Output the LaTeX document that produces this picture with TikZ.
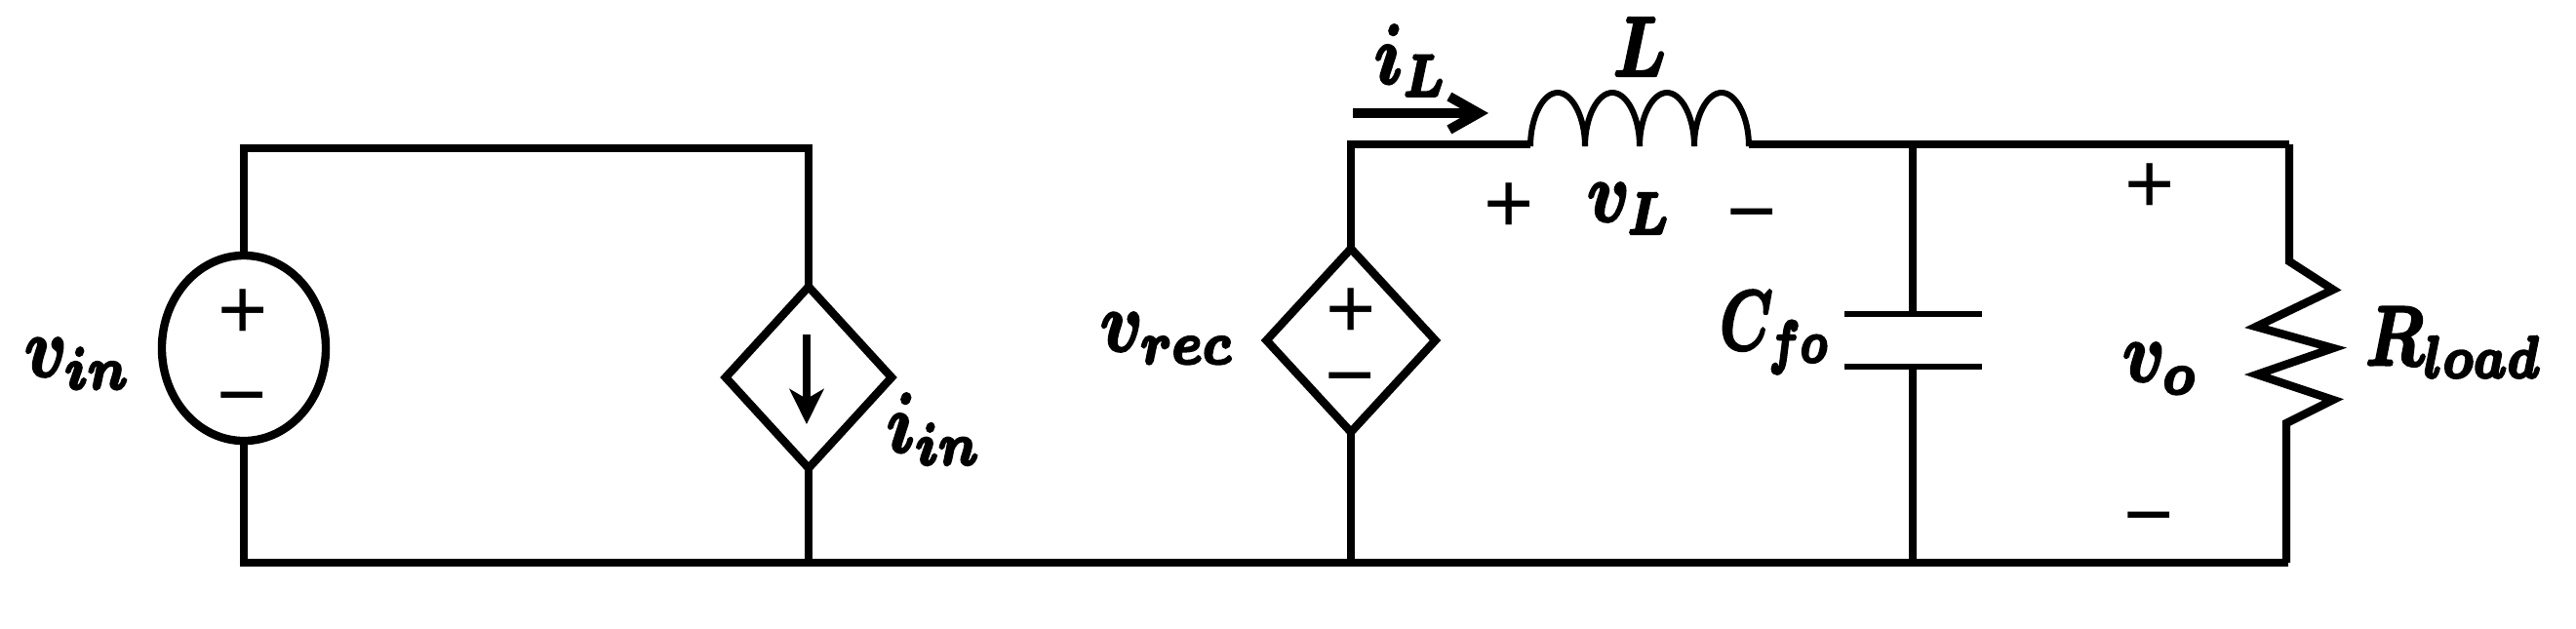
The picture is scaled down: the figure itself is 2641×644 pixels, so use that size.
\documentclass[tikz,border=0pt]{standalone}
\usepackage{amsmath}
\usepackage{fontspec}
\usepackage{tikz}
\usetikzlibrary{arrows.meta,shapes.geometric}
\newfontfamily\signfont{Liberation Sans}
\newcommand{\heavy}[1]{\special{pdf:code 2 Tr 0.35 w}#1\special{pdf:code 0 Tr}}
\tikzset{
    wire/.style={line width=0.084cm},
    coil/.style={line width=0.06cm},
    plate/.style={line width=0.062cm},
    srcshape/.style={draw,line width=0.084cm,inner sep=0pt,outer sep=0pt},
    sign/.style={inner sep=0pt,font=\signfont\fontsize{25}{30}\selectfont},
    lab/.style={inner sep=0pt,xscale=2.05,yscale=2.45,font=\boldmath}
}
\begin{document}
\begin{tikzpicture}[x=0.01cm,y=-0.01cm]
        \useasboundingbox (0,0) rectangle (2641,644);

        \node at (250,357) (vinsrc) [srcshape,ellipse,minimum width=1.68cm,minimum height=1.90cm] {};
        \node at (829,387) (iinsrc) [srcshape,diamond,minimum width=1.70cm,minimum height=1.86cm] {};
        \node at (1385,349) (recsrc) [srcshape,diamond,minimum width=1.73cm,minimum height=1.88cm] {};

        \coordinate (topa) at (250,152);
        \coordinate (topb) at (829,152);
        \coordinate (bota) at (250,577);
        \coordinate (botb) at (2346,577);
        \coordinate (topc) at (1385,148);
        \coordinate (topd) at (2347,148);
        \coordinate (indl) at (1569,148);
        \coordinate (indr) at (1793,148);
        \coordinate (capn) at (1961,148);
        \coordinate (capa) at (1961,322);
        \coordinate (capb) at (1961,376);

        \draw[wire] (vinsrc.north) -- (topa) -- (topb) -- (iinsrc.north);
        \draw[wire] (vinsrc.south) -- (bota) -- (botb);
        \draw[wire] (iinsrc.south) -- (iinsrc.south |- bota);
        \draw[wire] (recsrc.south) -- (recsrc.south |- bota);
        \draw[wire] (recsrc.north) -- (topc) -- (indl);
        \draw[wire] (indr) -- (topd);

        % inductor
        \foreach \i in {0,1,2,3}
        \draw[coil] ({1569+56*\i},150) .. controls ({1569+56*\i},120) and ({1582+56*\i},95) .. ({1597+56*\i},95) .. controls ({1612+56*\i},95) and ({1625+56*\i},120) .. ({1625+56*\i},150);

        % capacitor
        \draw[wire] (capn) -- (capa);
        \draw[wire] (capb) -- (capb |- bota);
        \draw[plate] (1891,322) -- (2032,322);
        \draw[plate] (1891,376) -- (2032,376);

        % load
        \draw[wire] (topd) -- (2347,268) -- (2392,297) -- (2313,335) -- (2392,357) -- (2314,384) -- (2392,410) -- (2344,434) -- (2344,577);

        % current arrows
        \coordinate (ila) at (1387,116);
        \coordinate (ilb) at (1526,116);
        \draw[line width=0.10cm,-{Straight Barb[length=0.3cm,width=0.34cm]}] (ila) -- (ilb);
        \coordinate (iia) at (827,343);
        \coordinate (iib) at (827,435);
        \draw[wire,-{Stealth[length=0.36cm,width=0.35cm,inset=0.1cm]}] (iia) -- (iib);

        \node at (249,322) (vinp) [sign] {+};
        \node at (248,418) (vinm) [sign] {−};
        \node at (1385,321) (recp) [sign] {+};
        \node at (1384,398) (recm) [sign] {−};
        \node at (1547,213) (vlp) [sign] {+};
        \node at (1796,230) (vlm) [sign] {−};
        \node at (2204,193) (vop) [sign] {+};
        \node at (2203,541) (vom) [sign] {−};

        \node at (80,373) (vinlab) [lab] {\heavy{$v_{in}$}};
        \node at (958,440) (iinlab) [lab] {\heavy{$i_{in}$}};
        \node at (1197,347) (reclab) [lab] {\heavy{$v_{rec}$}};
        \node at (1447,62) (illab) [lab] {\heavy{$i_L$}};
        \node at (1681,48) (llab) [lab] {\heavy{$L$}};
        \node at (1671,214) (vllab) [lab] {\heavy{$v_L$}};
        \node at (1820,341) (clab) [lab,xscale=0.85] {\heavy{$C_{fo}$}};
        \node at (2215,378) (volab) [lab] {\heavy{$v_o$}};
        \node at (2516,351) (rlab) [lab,xscale=0.95] {\heavy{$R_{load}$}};
    \end{tikzpicture}
\end{document}
